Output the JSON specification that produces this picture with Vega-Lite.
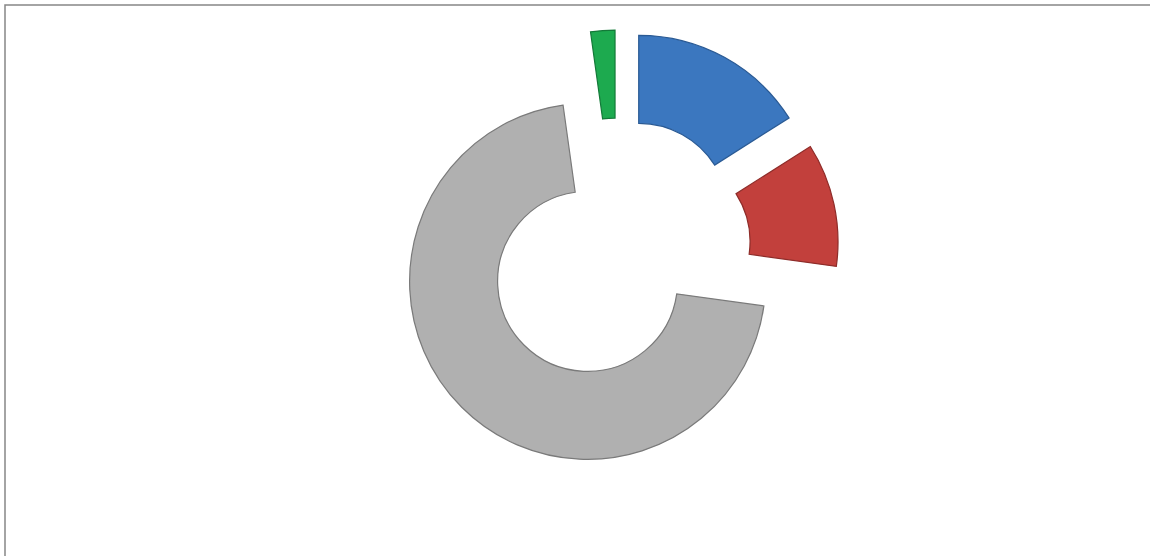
{
  "$schema": "https://vega.github.io/schema/vega-lite/v6.json",
  "width": 1160,
  "height": 570,
  "autosize": "none",
  "padding": {"left": 5, "top": 5, "right": 0, "bottom": 0},
  "background": "white",
  "config": {"view": {"stroke": "#868686", "strokeWidth": 1.5}},
  "data": {
    "values": [
      {"category": "A", "value": 16.0},
      {"category": "B", "value": 11.2},
      {"category": "C", "value": 70.6},
      {"category": "D", "value": 2.2}
    ]
  },
  "transform": [
    {"joinaggregate": [{"op": "sum", "field": "value", "as": "total"}]},
    {"window": [{"op": "sum", "field": "value", "as": "cum"}], "frame": [null, 0]},
    {"calculate": "2*PI*datum.cum/datum.total", "as": "t1"},
    {"calculate": "2*PI*(datum.cum-datum.value)/datum.total", "as": "t0"},
    {"calculate": "sin((datum.t0+datum.t1)/2)", "as": "ex"},
    {"calculate": "-cos((datum.t0+datum.t1)/2)", "as": "ey"}
  ],
  "mark": {"type": "arc", "radius": 178, "radius2": 90, "strokeWidth": 1.2},
  "encoding": {
    "theta": {"field": "t0", "type": "quantitative", "scale": null},
    "theta2": {"field": "t1"},
    "x": {"field": "ex", "type": "quantitative", "scale": {"domain": [-1, 1], "range": [570, 656]}, "axis": null},
    "y": {"field": "ey", "type": "quantitative", "scale": {"domain": [-1, 1], "range": [203, 289]}, "axis": null},
    "color": {
      "field": "category", "type": "nominal", "legend": null,
      "scale": {"domain": ["A", "B", "C", "D"], "range": ["#3b77bf", "#c2403c", "#b0b0b0", "#1daa4f"]}
    },
    "stroke": {
      "field": "category", "type": "nominal", "legend": null,
      "scale": {"domain": ["A", "B", "C", "D"], "range": ["#2a5a94", "#8e2c29", "#7a7a7a", "#137a38"]}
    }
  }
}
